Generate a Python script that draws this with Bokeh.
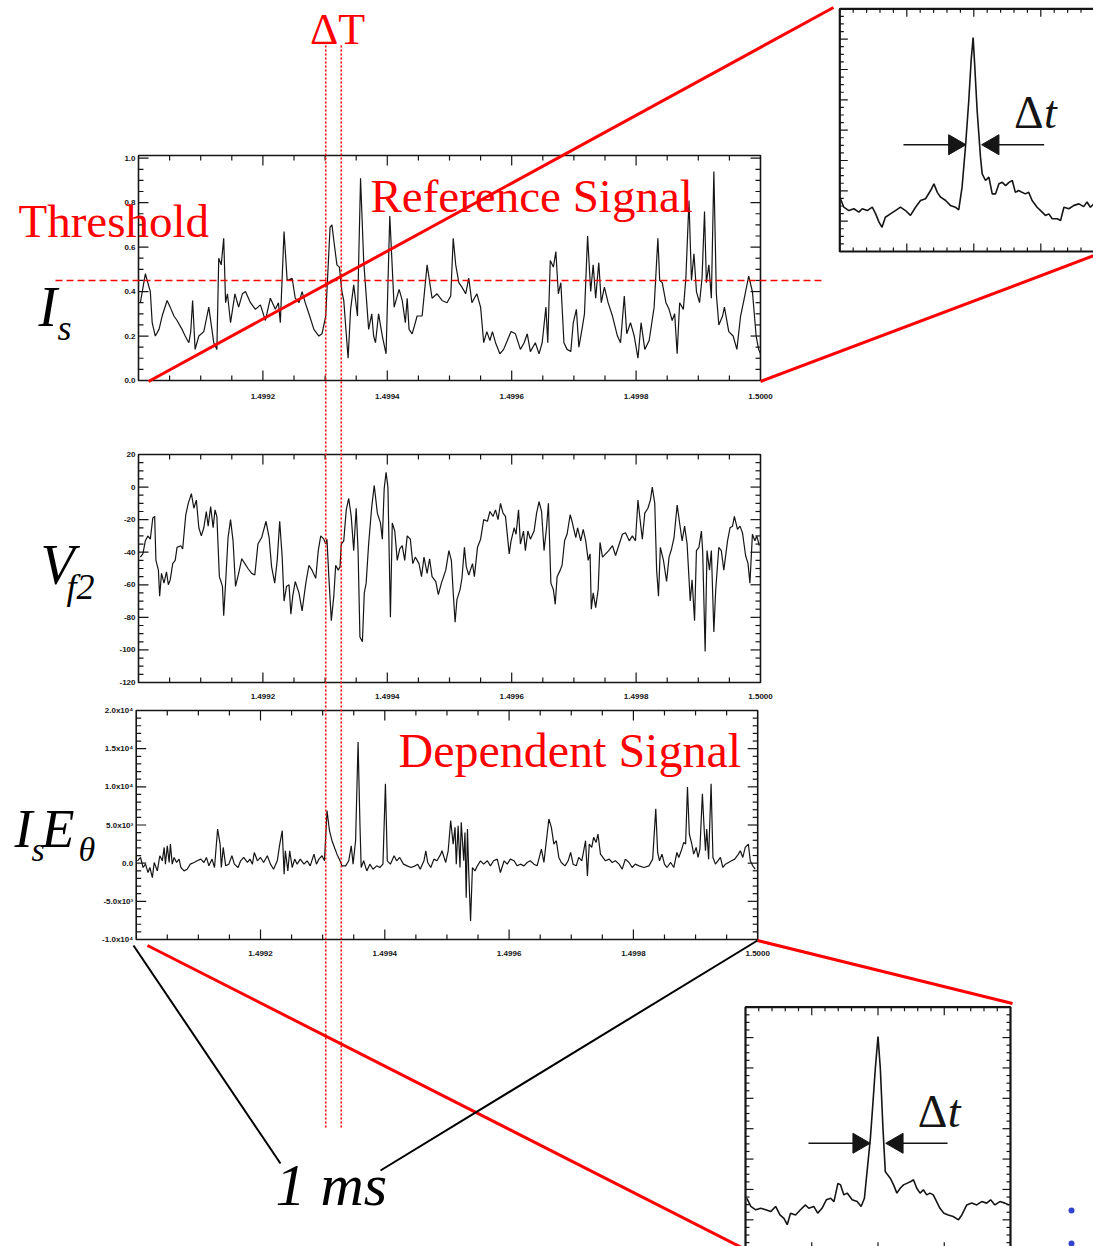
import numpy as np
from bokeh.plotting import figure
from bokeh.models import Range1d
from bokeh.core.properties import value
from bokeh.embed import file_html
from bokeh.resources import INLINE

# ---------------------------------------------------------------- data
T0 = 1.4990          # s, start of the 1 ms record
THRESHOLD = 0.45     # level on the reference signal
DT_WINDOW_US = [301, 326]   # conditional-averaging window (us after T0)

# reference signal I_s (time in us after T0)
IS_T_US = [3, 11, 19, 22, 27, 33, 38, 46, 51, 57, 62, 70, 75, 81, 84, 87, 91, 97, 105, 113,
           121, 126, 129, 133, 137, 140, 143, 148, 155, 161, 167, 172, 180, 188, 196, 204, 212, 220, 225, 228,
           234, 239, 247, 252, 258, 263, 268, 274, 282, 290, 295, 301, 308, 311, 314, 319, 323, 327, 330, 334,
           337, 341, 346, 352, 357, 362, 370, 375, 378, 381, 386, 392, 398, 404, 411, 419, 424, 429, 432, 435,
           440, 448, 456, 464, 472, 480, 488, 496,
           502, 506, 510, 515, 520, 526, 531, 536, 544, 550, 555, 560, 565, 569, 574, 581, 587, 593, 599, 606,
           614, 620, 625, 630, 638, 644, 649, 655, 658, 662, 667, 671, 675, 679, 684, 689, 695, 699, 704, 708,
           713, 717, 722, 727, 731, 735, 740, 744, 749, 755, 762, 770, 775, 781, 785, 791, 797, 803, 808, 814,
           821, 829, 835, 838, 842, 848, 853, 858, 862, 866, 870, 876, 880, 885, 889, 893, 897, 902, 906, 910,
           913, 917, 921, 925, 929, 933, 939, 942, 949, 956, 962, 968, 974, 981, 987, 993, 997, 1000]
IS_VAL = [0.35, 0.48, 0.40, 0.26, 0.20, 0.23, 0.29, 0.36, 0.33, 0.29, 0.27, 0.23, 0.20, 0.17, 0.22, 0.36, 0.14, 0.20, 0.22, 0.33,
          0.17, 0.14, 0.55, 0.52, 0.64, 0.35, 0.39, 0.26, 0.39, 0.33, 0.39, 0.40, 0.35, 0.32, 0.34, 0.27, 0.37, 0.32, 0.35, 0.26,
          0.67, 0.45, 0.46, 0.37, 0.35, 0.40, 0.35, 0.30, 0.23, 0.20, 0.21, 0.29, 0.69, 0.70, 0.63, 0.52, 0.51, 0.40, 0.36, 0.21,
          0.10, 0.32, 0.43, 0.29, 0.91, 0.54, 0.23, 0.30, 0.20, 0.17, 0.30, 0.20, 0.12, 0.74, 0.33, 0.41, 0.36, 0.26, 0.37, 0.23,
          0.21, 0.29, 0.29, 0.52, 0.37, 0.39, 0.36, 0.35,
          0.38, 0.64, 0.52, 0.44, 0.42, 0.39, 0.46, 0.35, 0.39, 0.33, 0.17, 0.22, 0.18, 0.22, 0.17, 0.12, 0.14, 0.18, 0.22, 0.21,
          0.14, 0.17, 0.21, 0.13, 0.17, 0.12, 0.17, 0.33, 0.17, 0.54, 0.51, 0.58, 0.39, 0.44, 0.17, 0.14, 0.13, 0.26, 0.32, 0.15,
          0.23, 0.30, 0.65, 0.40, 0.52, 0.37, 0.53, 0.35, 0.42, 0.35, 0.29, 0.20, 0.17, 0.38, 0.21, 0.26, 0.20, 0.10, 0.26, 0.14,
          0.18, 0.33, 0.64, 0.45, 0.44, 0.35, 0.32, 0.27, 0.30, 0.12, 0.35, 0.32, 0.46, 0.81, 0.45, 0.57, 0.40, 0.35, 0.46, 0.76,
          0.44, 0.52, 0.37, 0.94, 0.39, 0.25, 0.29, 0.33, 0.22, 0.20, 0.14, 0.29, 0.37, 0.47, 0.40, 0.20, 0.14, 0.12]

# floating potential V_f2
VF_T_US = [3, 7, 11, 15, 19, 23, 26, 28, 32, 34, 37, 41, 45, 48, 51, 55, 59, 62, 68, 71,
           76, 80, 85, 89, 93, 97, 101, 105, 109, 112, 116, 120, 123, 126, 130, 135, 137, 140, 144, 148,
           152, 156, 161, 166, 171, 176, 182, 187, 192, 198, 205, 210, 214, 219, 223, 227, 231, 234, 238, 242,
           245, 248, 252, 258, 263, 269, 274, 279, 285, 289, 293, 298, 301, 303, 306, 310, 314, 317, 321, 324,
           326, 330, 334, 338, 342, 346, 350, 353, 356, 360, 363, 366, 370, 375, 379, 384, 389, 392, 395, 398,
           401, 405, 408, 412, 416, 420, 424, 428, 432, 437, 441, 445, 451, 455, 459, 464, 468, 472, 478, 482,
           487, 494, 499, 503,
           506, 509, 512, 517, 520, 524, 527, 531, 537, 540, 545, 550, 555, 561, 565, 570, 574, 578, 582, 586,
           590, 596, 599, 604, 607, 611, 614, 619, 622, 626, 630, 636, 640, 644, 648, 652, 656, 659, 663, 667,
           670, 673, 678, 681, 685, 689, 694, 697, 703, 706, 711, 715, 719, 723, 726, 728, 731, 735, 739, 742,
           746, 751, 756, 762, 767, 772, 778, 783, 789, 794, 799, 803, 807, 810, 814, 819, 823, 826, 830, 833,
           836, 839, 844, 849, 853, 857, 861, 866, 871, 874, 878, 882, 887, 890, 894, 897, 901, 905, 907, 911,
           914, 918, 921, 925, 928, 933, 937, 941, 947, 951, 955, 958, 963, 967, 971, 976, 980, 983, 987, 991,
           994, 998]
VF_VAL = [-43, -41, -33, -30, -32, -19, -18, -45, -51, -67, -53, -59, -52, -60, -57, -47, -45, -37, -36, -38,
          -17, -10, -4, -13, -8, -25, -30, -25, -15, -24, -12, -25, -14, -18, -55, -61, -79, -59, -31, -20,
          -33, -61, -53, -44, -47, -50, -53, -54, -35, -31, -21, -31, -49, -59, -45, -21, -43, -70, -61, -60,
          -78, -67, -58, -65, -76, -59, -48, -51, -56, -39, -30, -32, -35, -32, -55, -82, -67, -48, -51, -49,
          -35, -33, -14, -7, -18, -39, -13, -39, -92, -95, -65, -59, -35, -12, 1, -16, -22, -32, -1, 9,
          0, -80, -22, -27, -45, -38, -36, -45, -30, -32, -47, -43, -47, -55, -43, -53, -44, -55, -58, -66,
          -59, -51, -39, -45,
          -65, -83, -69, -63, -56, -37, -49, -54, -47, -55, -37, -32, -20, -21, -15, -18, -14, -20, -10, -16,
          -18, -41, -33, -25, -29, -14, -35, -27, -39, -27, -32, -27, -16, -9, -15, -39, -25, -10, -59, -63,
          -72, -55, -51, -48, -33, -29, -17, -21, -31, -25, -33, -26, -33, -45, -41, -75, -65, -74, -63, -34,
          -43, -41, -39, -36, -42, -36, -29, -28, -33, -30, -33, -8, -22, -32, -16, -13, -8, 0, -10, -51,
          -67, -37, -45, -58, -43, -38, -31, -11, -25, -33, -24, -35, -70, -57, -82, -39, -37, -27, -39, -101,
          -39, -51, -39, -89, -63, -37, -39, -51, -33, -25, -24, -18, -26, -24, -28, -42, -47, -59, -29, -33,
          -30, -36]

# dependent signal I_s E_theta
IE_T_US = [2, 7, 11, 15, 19, 22, 26, 29, 34, 38, 42, 45, 47, 50, 53, 55, 58, 61, 65, 69,
           72, 77, 82, 87, 93, 98, 104, 109, 113, 117, 122, 126, 131, 135, 137, 140, 144, 149, 154, 158,
           164, 168, 173, 179, 183, 187, 190, 195, 200, 205, 211, 216, 221, 227, 231, 235, 238, 240, 244, 247,
           251, 255, 259, 264, 270, 275, 280, 286, 290, 294, 299, 303, 307, 311, 315, 319, 323, 328, 331, 337,
           342, 346, 349, 353, 357, 360, 362, 366, 371, 376, 381, 387, 392, 397, 401, 404, 409, 415, 419, 424,
           430, 436, 442, 449, 453, 457, 463, 466, 469, 474, 479, 484, 490, 492, 498,
           502, 506, 510, 513, 515, 518, 521, 523, 527, 529, 531, 533, 535, 538, 541, 545, 549, 554, 559, 565,
           570, 575, 581, 586, 592, 597, 602, 608, 613, 618, 624, 629, 634, 640, 645, 652, 656, 660, 664, 668,
           672, 676, 680, 684, 690, 695, 699, 703, 708, 712, 717, 720, 723, 726, 729, 733, 736, 740, 743, 747,
           751, 755, 761, 766, 771, 777, 782, 787, 793, 798, 803, 809, 817, 825, 831, 836, 839, 842, 846, 850,
           854, 860, 865, 870, 873, 877, 881, 884, 887, 890, 894, 897, 901, 904, 907, 911, 914, 916, 918, 921,
           925, 928, 932, 936, 940, 944, 948, 953, 958, 963, 969, 972, 976, 980, 985, 988, 992, 996]
IE_VAL = [310, 750, -570, -130, -1230, -570, -1890, 90, -1010, 970, 310, 2060, -130, 2280, 90, 2500, -130, 750, 90, 530,
          -570, -1010, -790, -130, 90, 310, 530, 90, 750, -350, 530, -570, 4470, 2500, -570, 2060, -350, -130, 970, -130,
          -570, 310, 750, 90, 530, -130, 1400, 310, 750, 90, 970, -130, -790, 310, 2500, 4250, -1450, 1620, -1010, 1620,
          -570, 530, -130, 530, -130, 310, -350, 1180, -130, 530, 970, 310, 6890, 4250, 2940, 2060, 1180, 310, -350, -350,
          310, 2280, -130, 2940, 15880, 5130, -570, 310, -1010, -130, -790, -350, -570, -130, 10400, 310, -130, 970, 310, 750,
          -130, -350, -570, -350, -130, -790, 310, 1620, 90, -570, 530, 310, 1180, 1620, 90,
          1620, 5570, 2500, 4690, -130, 4910, -570, 5350, 310, 4030, -4520, 4470, -1010, -7590, -570, -1010, -350, 310, -130, 310,
          -350, 310, 530, -1230, 310, -130, 530, 310, -350, -130, -350, 90, 310, -130, -350, 1840, 90, 2940, 5790, 4690,
          2500, 2940, 750, 90, -350, 310, 1400, -130, -350, 750, 310, 1620, 2940, -1670, 2500, 2060, 3380, 2720, 3820, 1180,
          750, 310, 530, 90, 310, -130, -790, 530, 90, -570, -130, -350, -570, -350, 530, 7110, 1400, 310, 1180, -130,
          -570, 90, -570, 1400, 750, 1620, 2720, 2500, 9960, 3820, 2500, 1180, 2060, 750, 1840, 9080, 4250, 1620, 4470, 530,
          10400, 750, -130, 310, 750, -570, -130, 90, 310, 530, 1180, 1620, 750, 2060, 2500, 310, -350, -790]

# conditional averages (lag in us, correlation)
LAG1 = [-39.8, -38.8, -37.3, -35.8, -34.3, -33.3, -31.8, -30.3, -29.3, -28.3, -27.4, -26.4, -24.9, -23.4, -21.9, -20.4,
        -18.9, -17.4, -15.9, -14.4, -12.9, -11.9, -10.9, -9.9, -8.4, -7.0, -5.5, -4.5, -3.5, -2.5, -1.5, -0.8, -0.2,
        0.2, 1.0, 2.0, 2.5, 3.5, 4.5, 5.5, 6.5, 7.5, 8.5, 9.5, 10.5, 11.5, 12.4, 13.4, 14.4, 15.4, 16.4, 17.4, 18.9,
        20.4, 21.4, 22.4, 23.4, 24.9, 25.9, 26.9, 28.4, 29.9, 31.4, 32.8, 33.8, 34.8, 35.8]
CA1 = [0.074, 0.046, 0.035, 0.041, 0.030, 0.041, 0.035, 0.046, 0.024, -0.003, -0.020, 0.013, 0.024, 0.035, 0.046, 0.035,
       0.019, 0.046, 0.068, 0.074, 0.101, 0.123, 0.095, 0.079, 0.068, 0.052, 0.046, 0.037, 0.112, 0.243, 0.397, 0.529, 0.605,
       0.529, 0.364, 0.211, 0.156, 0.134, 0.145, 0.090, 0.090, 0.123, 0.128, 0.117, 0.128, 0.134, 0.095, 0.101, 0.095,
       0.090, 0.095, 0.068, 0.046, 0.030, 0.019, 0.024, 0.008, 0.008, 0.002, 0.046, 0.041, 0.052, 0.057, 0.048, 0.063,
       0.046, 0.057]
LAG2 = [-39.6, -38.4, -36.9, -35.4, -33.9, -32.4, -30.9, -29.6, -28.4, -27.4, -26.4, -24.9, -23.4, -21.9, -20.9, -19.4,
        -18.2, -16.9, -15.6, -14.3, -13.3, -12.1, -11.3, -10.3, -9.3, -7.8, -6.3, -5.1, -4.1, -3.3, -2.3, -1.5, -0.8, 0.0,
        0.7, 1.5, 2.2, 2.9, 3.7, 4.7, 5.7, 6.7, 7.7, 8.7, 9.9, 10.7, 11.7, 12.7, 13.7, 14.7, 15.7, 16.7, 17.7, 18.7,
        19.9, 21.2, 22.7, 24.3, 25.3, 26.8, 28.3, 29.8, 31.3, 32.8, 34.0, 35.3, 36.8, 38.3, 39.6]
CA2 = [0.071, 0.044, 0.033, 0.038, 0.033, 0.027, 0.044, 0.016, 0.005, -0.016, 0.022, 0.016, 0.033, 0.049, 0.038, 0.044,
       0.022, 0.038, 0.066, 0.071, 0.060, 0.120, 0.115, 0.082, 0.088, 0.066, 0.060, 0.044, 0.071, 0.159, 0.268, 0.389,
       0.499, 0.603, 0.499, 0.301, 0.159, 0.148, 0.137, 0.115, 0.088, 0.104, 0.115, 0.120, 0.126, 0.132, 0.104, 0.088,
       0.099, 0.082, 0.088, 0.082, 0.060, 0.038, 0.022, 0.016, 0.011, 0.000, 0.016, 0.049, 0.055, 0.049, 0.060, 0.055,
       0.066, 0.049, 0.060, 0.055, 0.049]
WIDTH_LAG = 2.5      # half-width marked by the arrows
WIDTH_LEVEL = 0.252

TIME_LABELS = ["1.4992", "1.4994", "1.4996", "1.4998", "1.5000"]
IS_LABELS = ["0.0", "0.2", "0.4", "0.6", "0.8", "1.0"]
VF_LABELS = ["20", "0", "-20", "-40", "-60", "-80", "-100", "-120"]
IE_LABELS = ["2.0x10\u2074", "1.5x10\u2074", "1.0x10\u2074", "5.0x10\u00b3", "0.0", "-5.0x10\u00b3", "-1.0x10\u2074"]

# ---------------------------------------------------------------- layout
W, H = 1093, 1246
RED = "#ff0000"
INK = "#151515"
SERIF = value("Liberation Serif")
TICKFONT = value("Liberation Sans")
BASELINE_SHIFT = 0.37   # em; places the alphabetic baseline of large labels

# frames: (left, right, top, bottom) in page pixels
P1_BOX = (138.0, 760.0, 155.0, 380.0)
P2_BOX = (138.0, 760.0, 454.0, 682.0)
P3_BOX = (135.7, 757.2, 710.0, 939.0)
I1_BOX = (839.3, 1107.3, 8.3, 251.0)
I2_BOX = (745.0, 1010.0, 1006.7, 1249.7)

TLIM = (T0, T0 + 1e-3)
LAGLIM = (-40.0, 40.0)
CALIM = (-0.1, 0.7)

p = figure(width=W, height=H, x_range=Range1d(0, W), y_range=Range1d(H, 0),
           output_backend="svg", toolbar_location=None,
           x_axis_location=None, y_axis_location=None, min_border=0)
p.outline_line_color = None
p.background_fill_color = "white"
p.border_fill_color = "white"
p.xgrid.grid_line_color = None
p.ygrid.grid_line_color = None


def make_panel(xlim, ylim, box):
    left, right, top, bottom = box
    xs, ys = Range1d(*xlim), Range1d(*ylim)
    xt, yt = Range1d(left, right), Range1d(bottom, top)
    data = p.subplot(x_source=xs, y_source=ys, x_target=xt, y_target=yt)
    xpix = p.subplot(x_source=xs, y_source=Range1d(0, H), x_target=xt, y_target=Range1d(0, H))
    ypix = p.subplot(x_source=Range1d(0, W), y_source=ys, x_target=Range1d(0, W), y_target=yt)
    return data, xpix, ypix


def draw_frame(sub, box, xlim, ylim, xticks, yticks, lens, lw):
    data, xpix, ypix = sub
    left, right, top, bottom = box
    data.quad(left=[xlim[0]], right=[xlim[1]], bottom=[ylim[0]], top=[ylim[1]],
              fill_color=None, line_color=INK, line_width=lw)
    for ticks, L in zip(xticks, lens):
        n = len(ticks)
        xpix.segment(x0=ticks, y0=[bottom] * n, x1=ticks, y1=[bottom - L] * n, line_color=INK, line_width=1.2)
        xpix.segment(x0=ticks, y0=[top] * n, x1=ticks, y1=[top + L] * n, line_color=INK, line_width=1.2)
    for ticks, L in zip(yticks, lens):
        n = len(ticks)
        ypix.segment(x0=[left] * n, y0=ticks, x1=[left + L] * n, y1=ticks, line_color=INK, line_width=1.2)
        ypix.segment(x0=[right] * n, y0=ticks, x1=[right - L] * n, y1=ticks, line_color=INK, line_width=1.2)


def us(vals):
    return [T0 + v * 1e-6 for v in vals]


def label(x, y, s, size, color="black", style="normal", align="left"):
    px = float(size.rstrip("px"))
    p.text(x=[x], y=[y - BASELINE_SHIFT * px], text=[s], text_font=SERIF, text_font_size=size,
           text_font_style=style, text_color=color, text_align=align, text_baseline="alphabetic")


t_major = us(range(200, 1000, 200))
t_minor = us([m for m in range(50, 1000, 50) if m % 200])
t_label_pos = us(range(200, 1001, 200))

panels = [
    (P1_BOX, (0.0, 1.012), IS_T_US, IS_VAL,
     [k / 100 for k in range(20, 101, 20)], [k / 100 for k in range(5, 101, 5) if k % 20],
     [k / 10 for k in range(0, 11, 2)], IS_LABELS, 16),
    (P2_BOX, (-120.0, 20.0), VF_T_US, VF_VAL,
     list(range(-100, 20, 20)), [k for k in range(-115, 20, 5) if k % 20],
     list(range(20, -121, -20)), VF_LABELS, 14),
    (P3_BOX, (-1.0e4, 2.0e4), IE_T_US, IE_VAL,
     list(range(-5000, 20000, 5000)), [k for k in range(-9000, 20000, 1000) if k % 5000],
     list(range(20000, -10001, -5000)), IE_LABELS, 14),
]

subs = []
for box, ylim, tt, vv, ymaj, ymin, ylab_pos, ylabs, xlab_gap in panels:
    sub = make_panel(TLIM, ylim, box)
    subs.append(sub)
    data, xpix, ypix = sub
    data.line(x=us(tt), y=vv, line_color=INK, line_width=1.2)
    draw_frame(sub, box, TLIM, ylim, (t_major, t_minor), (ymaj, ymin), (10, 5), 1.6)
    left, right, top, bottom = box
    xpix.text(x=t_label_pos, y=[bottom + xlab_gap] * len(t_label_pos), text=TIME_LABELS,
              text_align="center", text_baseline="middle", text_font=TICKFONT,
              text_font_size="8px", text_font_style="bold", text_color=INK)
    ypix.text(x=[left - 3] * len(ylab_pos), y=ylab_pos, text=ylabs, text_align="right", text_baseline="middle",
              text_font=TICKFONT, text_font_size="8px", text_font_style="bold", text_color=INK)

# conditional-average insets
lag_major = [-20, 0, 20]
lag_minor = [k for k in range(-36, 40, 4) if k % 20]
ca_major = [k / 1000 for k in range(0, 700, 100)]
ca_minor = [k / 1000 for k in range(-75, 700, 25) if k % 100]

for box, lag, ca in ((I1_BOX, LAG1, CA1), (I2_BOX, LAG2, CA2)):
    sub = make_panel(LAGLIM, CALIM, box)
    data, xpix, ypix = sub
    data.line(x=lag, y=ca, line_color=INK, line_width=1.6)
    draw_frame(sub, box, LAGLIM, CALIM, (lag_major, lag_minor), (ca_major, ca_minor), (8, 4), 2.2)
    left, right, top, bottom = box
    px_per_lag = (right - left) / (LAGLIM[1] - LAGLIM[0])
    head_off = 11.0 / px_per_lag
    data.segment(x0=[-21.0, 21.0], y0=[WIDTH_LEVEL] * 2, x1=[-WIDTH_LAG - 1, WIDTH_LAG + 1], y1=[WIDTH_LEVEL] * 2,
                 line_color=INK, line_width=1.6)
    data.scatter(x=[-WIDTH_LAG - head_off, WIDTH_LAG + head_off], y=[WIDTH_LEVEL] * 2,
                 marker="triangle", size=20, angle=[-np.pi / 2, np.pi / 2],
                 fill_color=INK, line_color=INK)
    # "Δt" label
    sx = left + (12.0 - LAGLIM[0]) * px_per_lag
    label(sx, top + 121, "\u0394", "46px", INK)
    label(sx + 30, top + 121, "t", "46px", INK, "italic")

# threshold and the ΔT window
data1, xpix1, ypix1 = subs[0]
ypix1.line(x=[55, 825], y=[THRESHOLD, THRESHOLD], line_color=RED, line_width=1.6, line_dash="7 4")
xpix1.segment(x0=us(DT_WINDOW_US), y0=[45, 45], x1=us(DT_WINDOW_US), y1=[1128, 1128],
              line_color=RED, line_width=1.6, line_dash="2 2")

# zoom connectors between the records and the insets
p.segment(x0=[148, 760, 147, 757], y0=[381, 381, 945, 940],
          x1=[833, 1107, 745, 1012], y1=[7, 250, 1249, 1003], line_color=RED, line_width=3)
p.segment(x0=[133, 380], y0=[945, 1170], x1=[280, 757], y1=[1163, 940], line_color="black", line_width=2)

# red captions
label(18, 238, "Threshold", "47px", RED)
label(370, 213, "Reference Signal", "47px", RED)
label(398, 768, "Dependent Signal", "48px", RED)
label(337, 45, "\u0394T", "44px", RED, align="center")

# quantity names
label(38, 327, "I", "56px", style="italic")
label(57, 341, "s", "36px", style="italic")
label(40, 585, "V", "56px", style="italic")
label(66, 600, "f2", "36px", style="italic")
label(14, 848, "I", "54px", style="italic")
label(31, 862, "s", "34px", style="italic")
label(41, 848, "E", "54px", style="italic")
label(78, 862, "\u03b8", "34px", style="italic")

label(275, 1207, "1 ms", "60px", style="italic")

p.scatter(x=[1071, 1071], y=[1210, 1243], size=6, fill_color="#3344cc", line_color=None)

open("out.html", "w").write(file_html(p, INLINE))
